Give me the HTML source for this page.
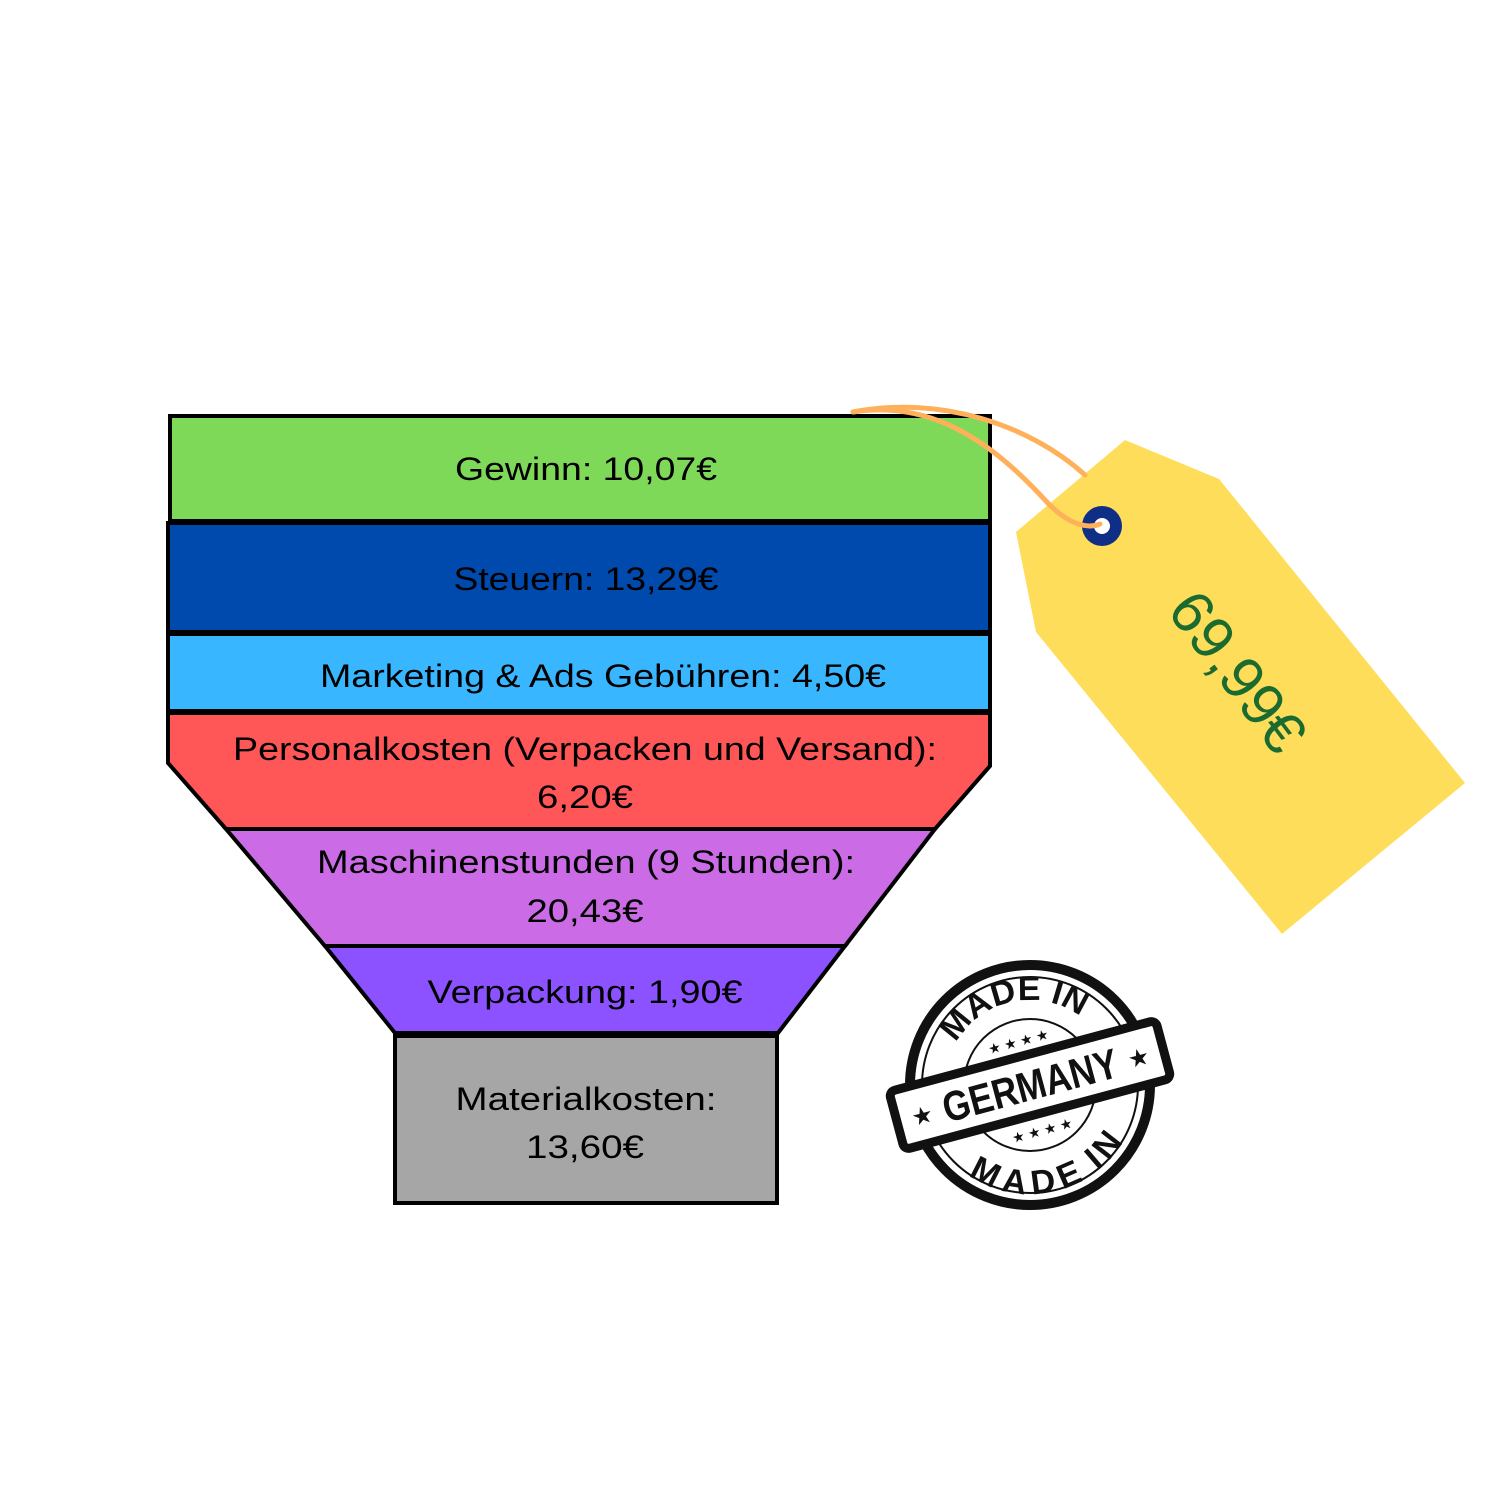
<!DOCTYPE html>
<html><head><meta charset="utf-8"><style>html,body{margin:0;padding:0;background:#fff}svg{display:block}</style></head>
<body>
<svg width="1500" height="1500" viewBox="0 0 1500 1500" xmlns="http://www.w3.org/2000/svg" font-family="Liberation Sans, sans-serif">
<rect width="1500" height="1500" fill="#fff"/>
<g stroke="#000" stroke-width="4" stroke-linejoin="miter">
<rect x="170" y="416" width="820" height="105" fill="#7fd958"/>
<rect x="168" y="523" width="822" height="109" fill="#004aad"/>
<rect x="168" y="634" width="822" height="77" fill="#38b6ff"/>
<polygon points="168,713 990,713 990,766 935,829 226,829 168,763" fill="#ff5757"/>
<polygon points="226,829 935,829 845,946 325,946" fill="#cb6ce6"/>
<polygon points="325,946 845,946 778,1033 395,1033" fill="#8c52ff"/>
<rect x="395" y="1036" width="382" height="167" fill="#a6a6a6"/>
</g>
<g font-size="32" fill="#000" text-anchor="middle">
<text x="586" y="480" textLength="262" lengthAdjust="spacingAndGlyphs">Gewinn: 10,07€</text>
<text x="586" y="590" textLength="265" lengthAdjust="spacingAndGlyphs">Steuern: 13,29€</text>
<text x="603" y="687" textLength="566" lengthAdjust="spacingAndGlyphs">Marketing &amp; Ads Gebühren: 4,50€</text>
<text x="585" y="760" textLength="704" lengthAdjust="spacingAndGlyphs">Personalkosten (Verpacken und Versand):</text>
<text x="585" y="808" textLength="96" lengthAdjust="spacingAndGlyphs">6,20€</text>
<text x="586" y="873" textLength="538" lengthAdjust="spacingAndGlyphs">Maschinenstunden (9 Stunden):</text>
<text x="585" y="922" textLength="117" lengthAdjust="spacingAndGlyphs">20,43€</text>
<text x="585" y="1003" textLength="315" lengthAdjust="spacingAndGlyphs">Verpackung: 1,90€</text>
<text x="586" y="1110" textLength="261" lengthAdjust="spacingAndGlyphs">Materialkosten:</text>
<text x="585" y="1158" textLength="118" lengthAdjust="spacingAndGlyphs">13,60€</text>
</g>
<polygon points="1016,532 1125,440 1219,479 1465,783 1282,934 1036,632" fill="#fedd5a"/>
<circle cx="1102" cy="526" r="20" fill="#0f2f86"/>
<circle cx="1102" cy="526" r="8" fill="#fff"/>
<g fill="none" stroke="#ffb05a" stroke-width="5" stroke-linecap="round">
<path d="M853,412 C940,395 1030,425 1085,475"/>
<path d="M853,412 C930,400 990,440 1045,500 C1065,522 1085,530 1100,524"/>
</g>
<text x="1237" y="692" font-size="60" fill="#1b6b30" text-anchor="middle" transform="rotate(53 1237 672)">69,99€</text>
<g transform="translate(1030,1085)">
<circle r="120" fill="#fff" stroke="#111" stroke-width="10"/>
<circle r="108" fill="none" stroke="#111" stroke-width="2"/>
<circle r="66" fill="none" stroke="#111" stroke-width="2"/>
<defs>
<path id="arcT" d="M-85,0 A85,85 0 0 1 85,0"/>
<path id="arcB" d="M-85,0 A85,85 0 0 0 85,0"/>
</defs>
<g transform="rotate(-12)">
<text font-size="34" font-weight="bold" fill="#111" text-anchor="middle"><textPath href="#arcT" startOffset="50%">MADE IN</textPath></text>
<text font-size="34" font-weight="bold" fill="#111" text-anchor="middle"><textPath href="#arcB" startOffset="50%" dominant-baseline="hanging">MADE IN</textPath></text>
</g>
<g transform="rotate(-15)">
<rect x="-138" y="-30" width="276" height="60" rx="6" fill="#fff" stroke="#111" stroke-width="9"/>
<text x="0" y="15" font-size="42" font-weight="bold" fill="#111" text-anchor="middle" textLength="180" lengthAdjust="spacingAndGlyphs">GERMANY</text>
<text x="-112" y="10" font-size="24" fill="#111" text-anchor="middle">★</text>
<text x="112" y="10" font-size="24" fill="#111" text-anchor="middle">★</text>
<text x="0" y="-40" font-size="14" fill="#111" text-anchor="middle">★ ★ ★ ★</text>
<text x="0" y="52" font-size="14" fill="#111" text-anchor="middle">★ ★ ★ ★</text>
</g>
</g>
</svg>
</body></html>
